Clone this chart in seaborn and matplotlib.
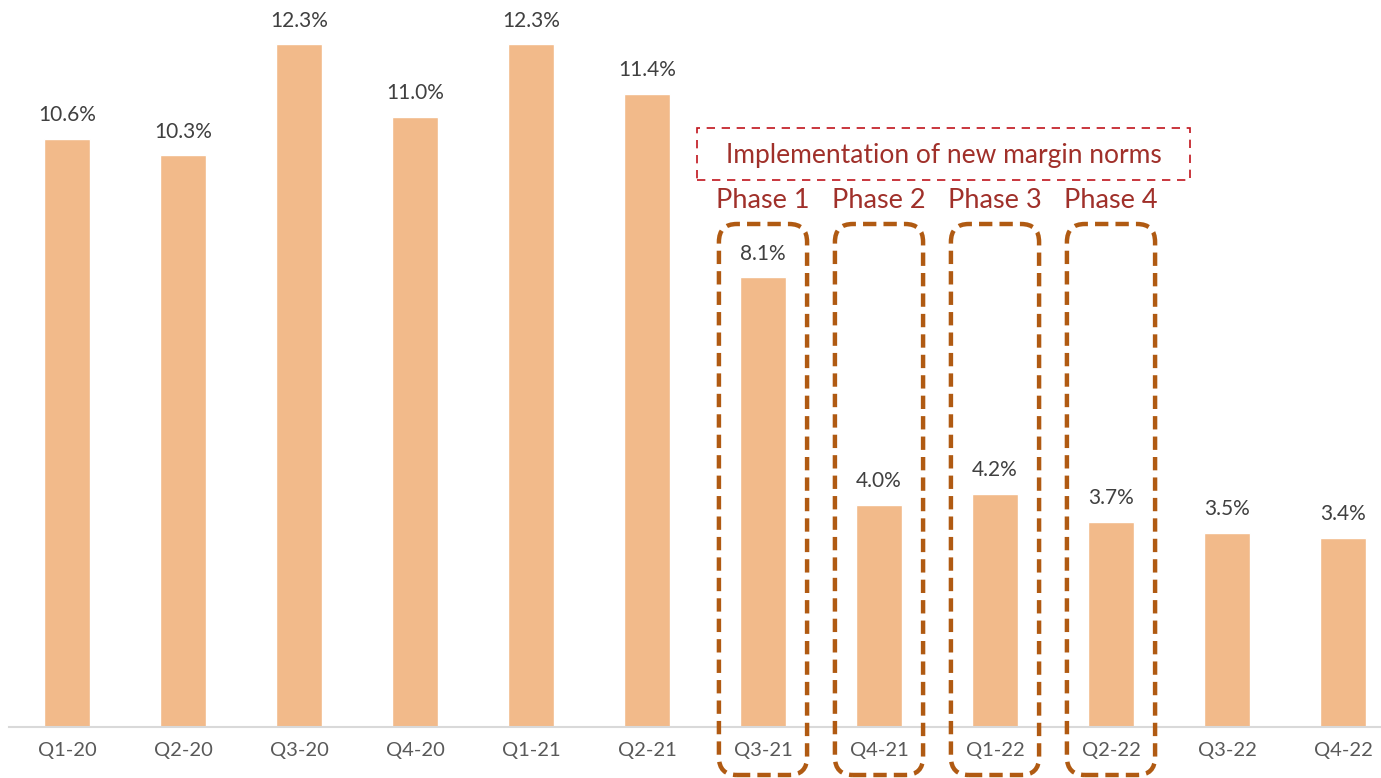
import matplotlib
matplotlib.use("Agg")
import matplotlib.pyplot as plt
import seaborn as sns
import pandas as pd
from matplotlib.patches import FancyBboxPatch, Rectangle
from matplotlib.transforms import IdentityTransform

quarters = ["Q1-20", "Q2-20", "Q3-20", "Q4-20", "Q1-21", "Q2-21",
            "Q3-21", "Q4-21", "Q1-22", "Q2-22", "Q3-22", "Q4-22"]
values = [10.6, 10.3, 12.3, 11.0, 12.3, 11.4, 8.1, 4.0, 4.2, 3.7, 3.5, 3.4]
phase_labels = ["Phase 1", "Phase 2", "Phase 3", "Phase 4"]
phase_quarters = ["Q3-21", "Q4-21", "Q1-22", "Q2-22"]
banner_text = "Implementation of new margin norms"

sns.set_theme(style="white")
plt.rcParams["font.family"] = ["Lato", "DejaVu Sans"]

W, H = 1381, 778
fig = plt.figure(figsize=(W / 100, H / 100), dpi=100)
ax = fig.add_axes([9 / W, 51 / H, 1392 / W, 727 / H])

df = pd.DataFrame({"quarter": quarters, "value": values})
sns.barplot(data=df, x="quarter", y="value", color="#F2BA8A", saturation=1,
            width=0.4, ax=ax)
ax.set_xlim(-0.5, 11.5)
ax.set_ylim(0, 13.1)
ax.set_xlabel("")
ax.set_ylabel("")
ax.set_yticks([])
for s in ["top", "right", "left"]:
    ax.spines[s].set_visible(False)
ax.spines["bottom"].set_color("#D9D9D9")
ax.spines["bottom"].set_linewidth(1.5)
ax.tick_params(axis="x", length=0, pad=11, labelsize=14.5, labelcolor="#595959")

for i, v in enumerate(values):
    ax.text(i, v + 0.25, f"{v:.1f}%", ha="center", va="bottom",
            fontsize=15, color="#404040")

# Phase dashed boxes (in pixel coordinates)
fig.canvas.draw()
for lab, q in zip(phase_labels, phase_quarters):
    i = quarters.index(q)
    x0, _ = ax.transData.transform((i - 0.38, 0))
    x1, _ = ax.transData.transform((i + 0.38, 0))
    y_top = H - 224
    y_bot = H - 775
    box = FancyBboxPatch((x0, y_bot), x1 - x0, y_top - y_bot,
                         boxstyle="round,pad=0,rounding_size=18",
                         transform=IdentityTransform(), fill=False,
                         edgecolor="#B05A12", linewidth=3.2,
                         linestyle=(0, (3, 1.6)), clip_on=False)
    fig.patches.append(box)
    xc, _ = ax.transData.transform((i, 0))
    fig.text(xc / W, (H - 201) / H, lab, ha="center", va="center",
             fontsize=19.5, color="#A0302A")

# Banner
bx0, bx1 = 697, 1190
by0, by1 = H - 180, H - 128
banner = Rectangle((bx0, by0), bx1 - bx0, by1 - by0, transform=IdentityTransform(),
                   fill=False, edgecolor="#C0141C", linewidth=1.2,
                   linestyle=(0, (5, 4)), clip_on=False)
fig.patches.append(banner)
fig.text((bx0 + bx1) / 2 / W, (H - 156) / H, banner_text, ha="center",
         va="center", fontsize=19, color="#A0302A")

fig.savefig("out.png", dpi=100)
